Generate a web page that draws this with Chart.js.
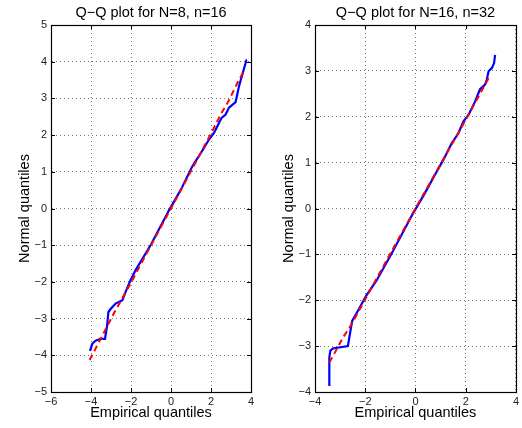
<!DOCTYPE html>
<html>
<head>
<meta charset="utf-8">
<script src="https://cdn.jsdelivr.net/npm/chart.js@4/dist/chart.umd.min.js"></script>
<style>
  html, body { margin: 0; padding: 0; background: #fff; }
  #wrap { position: relative; width: 522px; height: 428px; overflow: hidden; }
  canvas { position: absolute; top: 0; }
  #c1 { left: 0; }
  #c2 { left: 261px; }
</style>
</head>
<body>
<div id="wrap">
  <canvas id="c1" width="261" height="428"></canvas>
  <canvas id="c2" width="261" height="428"></canvas>
</div>
<script>
// ---- Data ----
const titleLeft = "Q\u2212Q plot for N=8, n=16";
const titleRight = "Q\u2212Q plot for N=16, n=32";
const xLabel = "Empirical quantiles";
const yLabel = "Normal quantiles";

// Left panel: empirical quantiles (x) vs normal quantiles (y)
const leftBlueX = [-4.05, -3.93, -3.77, -3.52, -3.30, -3.20, -3.13, -3.02, -2.77, -2.43, -2.27, -2.02, -1.77, -1.00, -0.10, 0.50, 1.03, 1.23, 1.40, 1.65, 1.90, 2.15, 2.40, 2.53, 2.73, 2.90, 3.23, 3.40, 3.77, 3.80];
const leftBlueY = [-3.88, -3.68, -3.60, -3.55, -3.55, -3.22, -2.82, -2.74, -2.59, -2.50, -2.27, -1.95, -1.68, -0.98, -0.05, 0.52, 1.11, 1.29, 1.43, 1.65, 1.88, 2.06, 2.33, 2.47, 2.56, 2.75, 2.90, 3.33, 4.04, 4.04];
const leftRedX = [-4.07, -3.20, -2.80, -2.00, -1.00, 0.00, 1.00, 2.00, 2.48, 2.87, 3.40, 3.65];
const leftRedY = [-4.13, -3.22, -2.80, -2.02, -1.00, 0.00, 1.02, 2.04, 2.56, 2.92, 3.51, 3.74];

// Right panel
const rightBlueX = [-3.43, -3.43, -3.39, -3.29, -2.69, -2.59, -2.52, -2.29, -1.96, -1.56, -0.96, -0.09, 0.37, 0.77, 1.11, 1.44, 1.71, 1.91, 2.11, 2.37, 2.57, 2.77, 2.84, 2.91, 3.04, 3.13, 3.17];
const rightBlueY = [-3.87, -3.25, -3.10, -3.05, -3.00, -2.67, -2.45, -2.23, -1.90, -1.58, -0.99, -0.10, 0.33, 0.73, 1.06, 1.42, 1.64, 1.90, 2.04, 2.33, 2.60, 2.70, 2.81, 2.99, 3.06, 3.17, 3.35];
const rightRedX = [-3.43, -2.87, -2.53, -2.00, -1.00, 0.00, 1.00, 2.00, 2.93, 3.01];
const rightRedY = [-3.36, -2.80, -2.51, -1.98, -0.98, 0.00, 0.97, 1.93, 2.86, 2.88];

// Axis ranges / ticks
const leftXRange = [-6, 4], leftXStep = 2;
const leftYRange = [-5, 5], leftYStep = 1;
const rightXRange = [-4, 4], rightXStep = 2;
const rightYRange = [-4, 4], rightYStep = 1;

// ---- helpers ----
function pts(xs, ys) { return xs.map((x, i) => ({ x: x, y: ys[i] })); }
function fmt(v) { return v < 0 ? "\u2212" + Math.abs(v) : String(v); }

Chart.defaults.font.family = "'Liberation Sans', Arial, Helvetica, sans-serif";
Chart.defaults.color = "#000";

const boxPlugin = {
  id: 'boxTicks',
  afterDraw(chart) {
    const ctx = chart.ctx, a = chart.chartArea;
    const xs = chart.scales.x, ys = chart.scales.y;
    const L = 4;
    ctx.save();
    ctx.strokeStyle = '#000';
    ctx.lineWidth = 1;
    ctx.beginPath();
    xs.ticks.forEach(t => {
      const px = Math.round(xs.getPixelForValue(t.value)) + 0.5;
      ctx.moveTo(px, a.bottom); ctx.lineTo(px, a.bottom - L);
      ctx.moveTo(px, a.top); ctx.lineTo(px, a.top + L);
    });
    ys.ticks.forEach(t => {
      const py = Math.round(ys.getPixelForValue(t.value)) + 0.5;
      ctx.moveTo(a.left, py); ctx.lineTo(a.left + L, py);
      ctx.moveTo(a.right, py); ctx.lineTo(a.right - L, py);
    });
    ctx.stroke();
    ctx.lineWidth = 1.2;
    ctx.strokeRect(Math.round(a.left) + 0.5, Math.round(a.top) + 0.5, Math.round(a.right - a.left), Math.round(a.bottom - a.top));
    ctx.restore();
  }
};

function makeChart(id, title, blue, red, xr, xstep, yr, ystep, yAxisWidth, yTitlePad, padRight) {
  return new Chart(document.getElementById(id), {
    type: 'scatter',
    data: {
      datasets: [
        { data: red, showLine: true, borderColor: '#ff0000', borderWidth: 2, borderDash: [6, 4], pointRadius: 0, fill: false, tension: 0 },
        { data: blue, showLine: true, borderColor: '#0000ff', borderWidth: 2.2, pointRadius: 0, fill: false, tension: 0 }
      ]
    },
    options: {
      responsive: false,
      animation: false,
      devicePixelRatio: 1,
      layout: { padding: { left: 0, right: padRight, top: 0, bottom: 0 } },
      plugins: {
        legend: { display: false },
        tooltip: { enabled: false },
        title: {
          display: true, text: title, fullSize: false,
          font: { size: 14.5, weight: 'normal' }, color: '#000',
          padding: { top: 4, bottom: 3.6 }
        }
      },
      scales: {
        x: {
          type: 'linear', min: xr[0], max: xr[1],
          ticks: { stepSize: xstep, callback: fmt, font: { size: 11 }, color: '#222', padding: 3, maxRotation: 0 },
          grid: { drawTicks: false, color: 'rgba(0,0,0,0.55)', lineWidth: 1 },
          border: { display: true, color: '#000', dash: [1, 3] },
          title: { display: true, text: xLabel, font: { size: 14.5 }, color: '#000', padding: { top: 0, bottom: 6.6 } },
          afterFit(s) { s.height = 36; }
        },
        y: {
          type: 'linear', min: yr[0], max: yr[1],
          ticks: { stepSize: ystep, callback: fmt, font: { size: 11 }, color: '#222', padding: 4 },
          grid: { drawTicks: false, color: 'rgba(0,0,0,0.55)', lineWidth: 1 },
          border: { display: true, color: '#000', dash: [1, 3] },
          title: { display: true, text: yLabel, font: { size: 14.5 }, color: '#000', padding: { top: yTitlePad, bottom: 0 } },
          afterFit(s) { s.width = yAxisWidth; }
        }
      }
    },
    plugins: [boxPlugin]
  });
}

makeChart('c1', titleLeft, pts(leftBlueX, leftBlueY), pts(leftRedX, leftRedY), leftXRange, leftXStep, leftYRange, leftYStep, 51, 16.5, 10);
makeChart('c2', titleRight, pts(rightBlueX, rightBlueY), pts(rightRedX, rightRedY), rightXRange, rightXStep, rightYRange, rightYStep, 54, 19.5, 6);
</script>
</body>
</html>
